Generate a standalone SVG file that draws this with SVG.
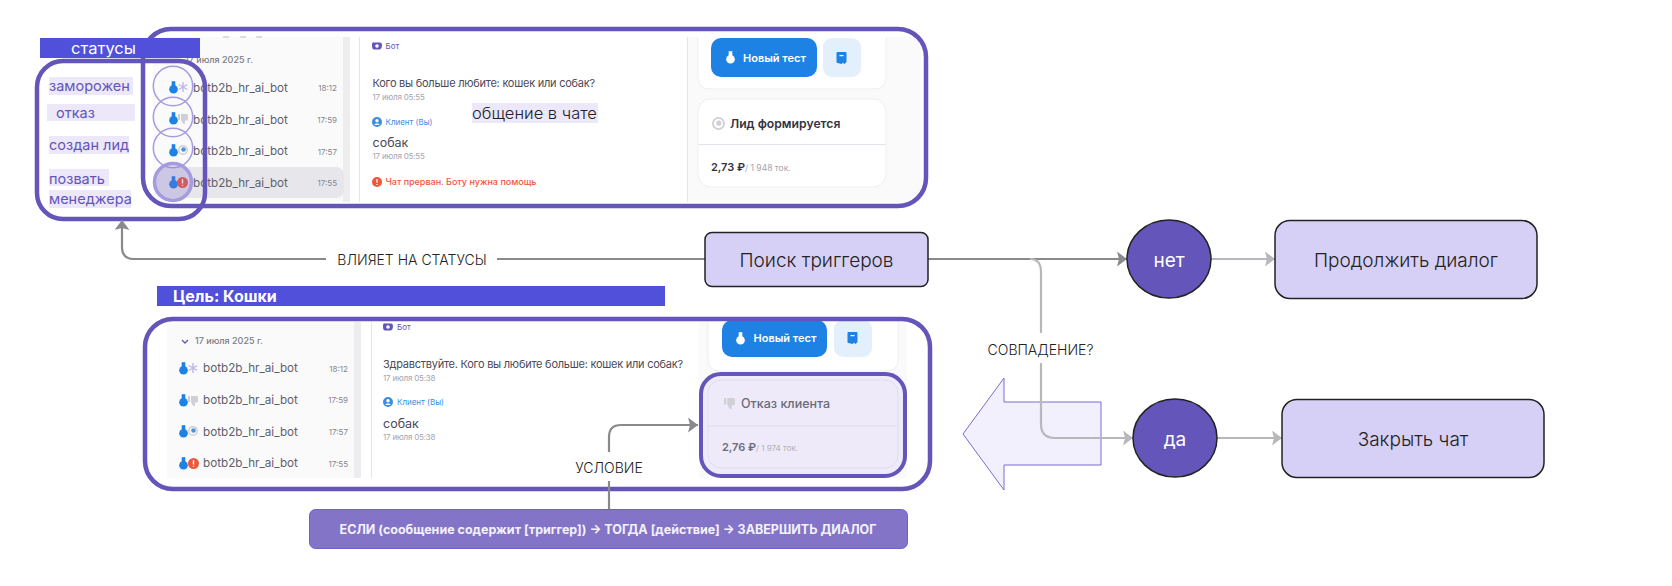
<svg xmlns="http://www.w3.org/2000/svg" width="1672" height="586" viewBox="0 0 1672 586">
<style>
text{font-family:Inter,"Noto Sans","Liberation Sans",sans-serif}
.frame{fill:none;stroke:#6355BA;stroke-width:4.5}
.side{fill:#FAFAFB}
.scroll{fill:#EDEDF0}
.vline{stroke:#E4E4EC;stroke-width:1}
.card{fill:#fff;stroke:#EFEFF3;stroke-width:1}
.btn{fill:#1E82E4}
.btn2{fill:#E3F0FC}
.row{font-size:11.7px;fill:#5F5F6B}
.time{font-size:8px;fill:#85858F;text-anchor:end}
.msg{font-size:11px;letter-spacing:-.25px;fill:#4A4A58}
.sob{font-size:12.5px;fill:#4A4A58}
.date{font-size:8px;letter-spacing:-.2px;fill:#A5A5AE}
.who{font-size:8px;fill:#6355BA}
.cli{font-size:8px;fill:#3B8FE0}
.day{font-size:9px;fill:#7A7A85;font-weight:500}
.btnt{font-size:11px;font-weight:600;fill:#fff}
.st{font-size:14.5px;fill:#6355BA}
.hl{fill:#ECE8FA}
.ring{fill:none;stroke:#A79BDF;stroke-width:1.5}
.box{fill:#D7D0F6;stroke:#222;stroke-width:1.5}
.boxt{font-size:19px;font-weight:300;fill:#222;text-anchor:middle;dominant-baseline:central}
.dot{fill:#6355BA;stroke:#222;stroke-width:1.5}
.dott{font-size:19px;fill:#fff;text-anchor:middle;dominant-baseline:central}
.lab{font-size:14px;font-weight:300;fill:#222;text-anchor:middle;dominant-baseline:central}
.dk{fill:none;stroke:#8A8A8E;stroke-width:2.2}
.lt{fill:none;stroke:#B8B8BC;stroke-width:2.2}
</style>
<defs>
<marker id="ah" markerUnits="userSpaceOnUse" markerWidth="11" markerHeight="15" refX="10" refY="7.500" orient="auto"><path d="M0 0L10 7.500L0 15L2 7.500Z" fill="#8A8A8E"/></marker>
<marker id="al" markerUnits="userSpaceOnUse" markerWidth="11" markerHeight="15" refX="10" refY="7.500" orient="auto"><path d="M0 0L10 7.500L0 15L2 7.500Z" fill="#B8B8BC"/></marker>
<symbol id="flask" viewBox="0 0 10 14" overflow="visible"><rect x="3" y="0" width="4" height="6" fill="#1E82E4"/><circle cx="5" cy="9" r="4.800" fill="#1E82E4"/></symbol>
<symbol id="flaskw" viewBox="0 0 10 14" overflow="visible"><rect x="3" y="0" width="4" height="6" fill="#fff"/><circle cx="5" cy="9" r="4.800" fill="#fff"/></symbol>
<symbol id="snow" viewBox="0 0 10 10" overflow="visible"><path d="M5 0V10M.7 2.500L9.300 7.500M.7 7.500L9.300 2.500" stroke="#C0B6EC" stroke-width="1.400" fill="none"/></symbol>
<symbol id="thumb" viewBox="0 0 10 12" overflow="visible"><path d="M0 1H2V7H0ZM3 1H9Q10 1 10 2.500V6.500Q10 7.500 8.500 7.500H7V10.500Q6 12 5 10.500L3 7Z" fill="#CFCFD5"/></symbol>
<symbol id="target" viewBox="0 0 10 10" overflow="visible"><circle cx="5" cy="5" r="4.300" fill="none" stroke="#CFCFD5" stroke-width="1.400"/><circle cx="5.500" cy="4.500" r="2.300" fill="#4A93DF"/></symbol>
<symbol id="target2" viewBox="0 0 10 10" overflow="visible"><circle cx="5" cy="5" r="4.300" fill="none" stroke="#CFCFD5" stroke-width="1.400"/><circle cx="5.300" cy="4.700" r="2" fill="#CFCFD5"/></symbol>
<symbol id="alert" viewBox="0 0 10 10" overflow="visible"><circle cx="5" cy="5" r="5" fill="#F0563A"/><path d="M5 2V5.800M5 7V8" stroke="#fff" stroke-width="1.300"/></symbol>
<symbol id="bot" viewBox="0 0 10 10" overflow="visible"><path d="M2 1.500H8Q10 1.500 10 4.500T8 8.500H2Q0 8.500 0 4.500T2 1.500Z" fill="#6355BA"/><circle cx="5" cy="5" r="1.800" fill="#fff"/></symbol>
<symbol id="user" viewBox="0 0 10 10" overflow="visible"><circle cx="5" cy="5" r="5" fill="#3B8FE0"/><circle cx="5" cy="3.800" r="1.700" fill="#fff"/><path d="M2.200 8A3 2.300 0 0 1 7.800 8Z" fill="#fff"/></symbol>
<symbol id="note" viewBox="0 0 10 12" overflow="visible"><path d="M1 0H9Q10 0 10 1V10L8 12L6.500 10.800L5 12L1 11Q0 11 0 10V1Q0 0 1 0Z" fill="#1E82E4"/><rect x="3" y="3" width="4" height="1.200" fill="#fff"/></symbol>
</defs>
<rect width="1672" height="586" fill="#fff"/>

<g id="chat-top">
<rect class="side" x="153" y="37" width="190" height="165"/>
<rect x="223" y="36" width="6" height="2" fill="#DCDCE0"/><rect x="240" y="36" width="6" height="2" fill="#DCDCE0"/><rect x="256" y="36" width="6" height="2" fill="#DCDCE0"/>
<rect class="scroll" x="343" y="37" width="7" height="165"/>
<line class="vline" x1="359.500" y1="37" x2="359.500" y2="202"/>
<rect class="side" x="687" y="37" width="234" height="165"/>
<line class="vline" x1="687.500" y1="37" x2="687.500" y2="202"/>
<path class="card" d="M698 37V77Q698 89 710 89H874Q886 89 886 77V37"/>
<rect class="btn" x="711" y="38" width="106" height="39" rx="10"/>
<rect class="btn2" x="823" y="38" width="38" height="39" rx="9"/>
<use href="#flaskw" x="726" y="51" width="9" height="13"/>
<text class="btnt" x="743" y="62">Новый тест</text>
<use href="#note" x="836" y="52" width="11" height="12"/>
<rect class="card" x="698" y="99" width="188" height="88" rx="13"/>
<line class="vline" x1="698" y1="144.500" x2="886" y2="144.500"/>
<use href="#target2" x="712" y="117" width="13" height="13"/>
<text x="730" y="128" font-size="12.200" font-weight="600" fill="#33333F">Лид формируется</text>
<text x="711" y="171" font-size="11" font-weight="600" fill="#33333F">2,73 ₽<tspan font-size="8.500" font-weight="400" fill="#A5A5AE">/ 1 948 ток.</tspan></text>
<use href="#bot" x="372" y="41" width="10" height="10"/>
<text class="who" x="385.500" y="49">Бот</text>
<text class="msg" x="372.500" y="87">Кого вы больше любите: кошек или собак?</text>
<text class="date" x="372.500" y="100">17 июля 05:55</text>
<use href="#user" x="372" y="117" width="10" height="10"/>
<text class="cli" x="385.500" y="125">Клиент (Вы)</text>
<text class="sob" x="372.500" y="147">собак</text>
<text class="date" x="372.500" y="159">17 июля 05:55</text>
<use href="#alert" x="372" y="177" width="10" height="10"/>
<text x="385.500" y="185" font-size="9" font-weight="500" fill="#F0563A">Чат прерван. Боту нужна помощь</text>
<text class="day" x="185" y="63">17 июля 2025 г.</text>
<rect x="155" y="167" width="189" height="31" rx="8" fill="#E7E7EB"/>
<use href="#flask" x="169" y="81" width="9" height="13"/><use href="#snow" x="178" y="82" width="10" height="10"/>
<use href="#flask" x="169" y="112" width="9" height="13"/><use href="#thumb" x="178" y="113" width="10" height="12"/>
<use href="#flask" x="169" y="144" width="9" height="13"/><use href="#target" x="178" y="145" width="10" height="10"/>
<use href="#flask" x="169" y="176" width="9" height="13"/><use href="#alert" x="177" y="177" width="11" height="11"/>
<text class="row" x="193" y="92">botb2b_hr_ai_bot</text><text class="time" x="337" y="91">18:12</text>
<text class="row" x="193" y="123.500">botb2b_hr_ai_bot</text><text class="time" x="337" y="123">17:59</text>
<text class="row" x="193" y="155">botb2b_hr_ai_bot</text><text class="time" x="337" y="154.500">17:57</text>
<text class="row" x="193" y="187">botb2b_hr_ai_bot</text><text class="time" x="337" y="186">17:55</text>
<rect class="frame" x="143" y="29" width="783" height="177" rx="28"/>
</g>

<g id="chat-label">
<rect class="hl" x="472" y="103" width="126" height="20"/>
<text x="472" y="119" font-size="16.500" font-weight="300" fill="#222">общение в чате</text>
</g>

<g id="status-rings">
<circle class="ring" cx="173" cy="86" r="19.700"/>
<circle class="ring" cx="173" cy="117" r="19.700"/>
<circle class="ring" cx="173" cy="148" r="19.700"/>
<circle cx="173" cy="182" r="18.500" fill="#7A6BCB" fill-opacity=".25" stroke="#A79BDF" stroke-width="3.500"/>
</g>

<g id="status-panel">
<rect class="frame" x="37" y="61" width="168" height="158" rx="26"/>
<rect class="hl" x="49" y="77" width="84" height="18"/><text class="st" x="49" y="91">заморожен</text>
<rect class="hl" x="47" y="104" width="88" height="17"/><text class="st" x="56" y="118">отказ</text>
<rect class="hl" x="49" y="136" width="80" height="18"/><text class="st" x="49" y="150">создан лид</text>
<rect class="hl" x="49" y="169" width="60" height="17"/><text class="st" x="49" y="184">позвать</text>
<rect class="hl" x="49" y="190" width="82" height="18"/><text class="st" x="49" y="204">менеджера</text>
</g>

<g id="status-title">
<rect x="40" y="38" width="160" height="20" fill="#5050DB"/>
<text x="103.500" y="54" font-size="16.500" fill="#fff" text-anchor="middle">статусы</text>
</g>

<g id="goal-title">
<rect x="157" y="286" width="508" height="20" fill="#5050DB"/>
<text x="173" y="302" font-size="16" font-weight="700" fill="#fff">Цель: Кошки</text>
</g>

<g id="chat-bottom">
<rect class="side" x="167" y="322" width="187" height="156"/>
<rect class="scroll" x="354" y="322" width="7" height="156"/>
<line class="vline" x1="371.500" y1="322" x2="371.500" y2="478"/>
<rect class="side" x="699" y="320" width="208" height="158"/>
<path class="card" d="M708 320V359Q708 371 720 371H886Q898 371 898 359V320"/>
<rect class="btn" x="722" y="320" width="105" height="37" rx="10"/>
<rect class="btn2" x="834" y="320" width="38" height="37" rx="9"/>
<use href="#flaskw" x="736" y="332" width="9" height="13"/>
<text class="btnt" x="753.500" y="342">Новый тест</text>
<use href="#note" x="847" y="332" width="11" height="12"/>
<path d="M182 340L185 343L188 340" fill="none" stroke="#6355BA" stroke-width="1.300"/>
<text class="day" x="195" y="344">17 июля 2025 г.</text>
<use href="#flask" x="179" y="362" width="9" height="13"/><use href="#snow" x="188" y="363" width="10" height="10"/>
<use href="#flask" x="179" y="394" width="9" height="13"/><use href="#thumb" x="188" y="395" width="10" height="12"/>
<use href="#flask" x="179" y="425" width="9" height="13"/><use href="#target" x="188" y="426" width="10" height="10"/>
<use href="#flask" x="179" y="457" width="9" height="13"/><use href="#alert" x="188" y="458" width="11" height="11"/>
<text class="row" x="203" y="372">botb2b_hr_ai_bot</text><text class="time" x="348" y="372">18:12</text>
<text class="row" x="203" y="404">botb2b_hr_ai_bot</text><text class="time" x="348" y="403">17:59</text>
<text class="row" x="203" y="436">botb2b_hr_ai_bot</text><text class="time" x="348" y="435">17:57</text>
<text class="row" x="203" y="467">botb2b_hr_ai_bot</text><text class="time" x="348" y="467">17:55</text>
<use href="#bot" x="383" y="322" width="10" height="10"/>
<text class="who" x="397" y="330">Бот</text>
<text class="msg" x="383" y="368">Здравствуйте. Кого вы любите больше: кошек или собак?</text>
<text class="date" x="383" y="381">17 июля 05:38</text>
<use href="#user" x="383" y="397" width="10" height="10"/>
<text class="cli" x="397" y="405">Клиент (Вы)</text>
<text class="sob" x="383" y="428">собак</text>
<text class="date" x="383" y="440">17 июля 05:38</text>
<rect x="701" y="374" width="204" height="102" rx="20" fill="#EEEAFA" stroke="#6355BA" stroke-width="4"/>
<rect x="708" y="380" width="190" height="88" rx="13" fill="none" stroke="#E0DDEE"/>
<line x1="708" y1="426" x2="898" y2="426" stroke="#E0DDEE"/>
<use href="#thumb" x="724" y="397" width="11" height="13"/>
<text x="741" y="408" font-size="12.500" font-weight="500" fill="#6A6A78">Отказ клиента</text>
<text x="722" y="451" font-size="11" font-weight="600" fill="#6A6A78">2,76 ₽<tspan font-size="8" font-weight="400" fill="#B0B0B8">/ 1 974 ток.</tspan></text>
<rect class="frame" x="145" y="319" width="785" height="170" rx="28"/>
</g>

<g id="big-arrow">
<path d="M963 434L1004 378V402H1101V465H1004V490Z" fill="#F3F0FE" stroke="#7B6BD6" stroke-width="1"/>
</g>

<g id="connectors">
<path class="dk" d="M705 259H497"/>
<path class="dk" d="M326 259H134Q122 259 122 247V220" marker-end="url(#ah)"/>
<path class="dk" d="M928 259H1127" marker-end="url(#ah)"/>
<path class="lt" d="M1030 259Q1041 259 1041 272V333"/>
<path class="lt" d="M1041 363V424Q1041 438 1055 438H1133" marker-end="url(#al)"/>
<path class="lt" d="M1211 259H1275" marker-end="url(#al)"/>
<path class="lt" d="M1217 438H1282" marker-end="url(#al)"/>
<path class="dk" d="M609 509V481"/>
<path class="dk" d="M609 452V437Q609 425 621 425H698" marker-end="url(#ah)"/>
<text class="lab" x="412" y="259">ВЛИЯЕТ НА СТАТУСЫ</text>
<text class="lab" x="1040.500" y="349">СОВПАДЕНИЕ?</text>
<text class="lab" x="609" y="467">УСЛОВИЕ</text>
</g>

<g id="rule">
<rect x="309.500" y="509.500" width="598" height="39" rx="6" fill="#8474C8" stroke="#6F5FCB"/>
<text x="608" y="534" font-size="12.500" font-weight="700" fill="#F3F1FB" text-anchor="middle">ЕСЛИ (сообщение содержит [триггер]) → ТОГДА [действие] → ЗАВЕРШИТЬ ДИАЛОГ</text>
</g>

<g id="search"><rect class="box" x="705" y="232.500" width="223" height="54" rx="7"/><text class="boxt" x="816.500" y="260">Поиск триггеров</text></g>
<g id="no"><ellipse class="dot" cx="1169" cy="259" rx="42" ry="39"/><text class="dott" x="1169" y="260">нет</text></g>
<g id="yes"><ellipse class="dot" cx="1175" cy="438" rx="42" ry="39"/><text class="dott" x="1175" y="439">да</text></g>
<g id="continue"><rect class="box" x="1275" y="220.500" width="262" height="78" rx="15"/><text class="boxt" x="1406" y="260">Продолжить диалог</text></g>
<g id="close"><rect class="box" x="1282" y="399.500" width="262" height="78" rx="15"/><text class="boxt" x="1413" y="439">Закрыть чат</text></g>
</svg>
